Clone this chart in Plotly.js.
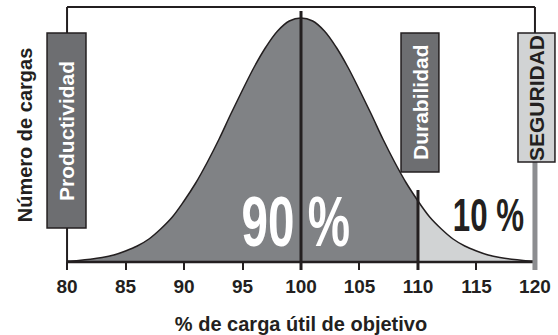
<!DOCTYPE html>
<html>
<head>
<meta charset="utf-8">
<script src="https://cdn.plot.ly/plotly-3.0.1.min.js"></script>
<style>html,body{margin:0;padding:0;background:#fff}#chart{width:558px;height:335px}
#chart .xtick text{font-weight:bold !important}</style>
</head>
<body>
<div id="chart"></div>
<script>
// Data
const loadPct = [80,81,82,83,84,85,86,87,88,89,90,91,92,93,94,95,96,97,98,99,100,101,102,103,104,105,106,107,108,109,110,111,112,113,114,115,116,117,118,119,120];
const loadCount = [1,1.6,2.7,4.4,7,11,16,23,33,45,61,79,100,123,148,172,195,215,231,241,244,241,231,215,195,172,148,123,100,79,61,45,33,23,16,11,7,4.4,2.7,1.6,1];
const splitAt = 110;            // boundary between 90 % and 10 %
const xTicks = [80,85,90,95,100,105,110,115,120];
const shareLabels = ["90 %", "10 %"];
const boxLabels = ["Productividad", "Durabilidad", "SEGURIDAD"];

const INK = '#231f20', DARK = '#808285', LIGHT = '#d1d3d4', GREYBAR = '#8c8d90';

const iSplit = loadPct.indexOf(splitAt);
const mainX = loadPct.slice(0, iSplit + 1), mainY = loadCount.slice(0, iSplit + 1);
const tailX = loadPct.slice(iSplit), tailY = loadCount.slice(iSplit);
const ySplit = loadCount[iSplit];
const yPeak = Math.max(...loadCount);
const xPeak = loadPct[loadCount.indexOf(yPeak)];
const xMin = loadPct[0], xMax = loadPct[loadPct.length - 1];

const traces = [
  {x: mainX, y: mainY, type: 'scatter', mode: 'lines', fill: 'tozeroy', fillcolor: DARK,
   line: {color: INK, width: 1.5, shape: 'spline'}, hoverinfo: 'skip'},
  {x: tailX, y: tailY, type: 'scatter', mode: 'lines', fill: 'tozeroy', fillcolor: LIGHT,
   line: {color: INK, width: 1.5, shape: 'spline'}, hoverinfo: 'skip'}
];

const frameTop = 255;
const shapes = [
  {type: 'line', xref: 'x', yref: 'y', x0: xMin, x1: xMax, y0: 0, y1: 0, line: {color: INK, width: 2.5}},
  {type: 'line', xref: 'x', yref: 'y', x0: xMin, x1: xMin, y0: 0, y1: frameTop, line: {color: INK, width: 2}},
  {type: 'line', xref: 'x', yref: 'y', x0: xMin, x1: xMax, y0: frameTop, y1: frameTop, line: {color: INK, width: 2}},
  {type: 'line', xref: 'x', yref: 'y', x0: xMax, x1: xMax, y0: 229, y1: frameTop, line: {color: INK, width: 2}},
  {type: 'line', xref: 'x', yref: 'y', x0: xMax, x1: xMax, y0: -8, y1: 100, line: {color: GREYBAR, width: 5}},
  {type: 'line', xref: 'x', yref: 'y', x0: xPeak, x1: xPeak, y0: -8, y1: yPeak + 7, line: {color: INK, width: 3}},
  {type: 'line', xref: 'x', yref: 'y', x0: splitAt, x1: splitAt, y0: -8, y1: ySplit + 11, line: {color: INK, width: 3}},
  {type: 'rect', xref: 'x', yref: 'y', x0: 78.29, x1: 81.62, y0: 34, y1: 229, fillcolor: '#6d6e71', line: {color: INK, width: 1.5}},
  {type: 'rect', xref: 'x', yref: 'y', x0: 108.55, x1: 111.79, y0: 90, y1: 229, fillcolor: '#6d6e71', line: {color: INK, width: 1.5}},
  {type: 'rect', xref: 'x', yref: 'y', x0: 118.55, x1: 121.71, y0: 100, y1: 229, fillcolor: LIGHT, line: {color: INK, width: 1.5}}
];

const boldFont = 'Liberation Sans, Arial, Helvetica, sans-serif';
const annotations = [
  {x: 79.95, y: 131.5, xref: 'x', yref: 'y', text: '<b>' + boxLabels[0] + '</b>', textangle: -90, showarrow: false,
   font: {family: boldFont, size: 21, color: '#ffffff'}},
  {x: 110.17, y: 160, xref: 'x', yref: 'y', text: '<b>' + boxLabels[1] + '</b>', textangle: -90, showarrow: false,
   font: {family: boldFont, size: 21, color: '#ffffff'}},
  {x: 120.13, y: 164.5, xref: 'x', yref: 'y', text: '<b>' + boxLabels[2] + '</b>', textangle: -90, showarrow: false,
   font: {family: boldFont, size: 21, color: INK}},
  {x: 99.6, y: 40, xref: 'x', yref: 'y', text: '<b>' + shareLabels[0] + '</b>', showarrow: false,
   font: {family: boldFont, size: 70, color: '#ffffff'}},
  {x: 116.07, y: 47, xref: 'x', yref: 'y', text: '<b>' + shareLabels[1] + '</b>', showarrow: false,
   font: {family: boldFont, size: 46, color: INK}}
];

const layout = {
  width: 558, height: 335,
  margin: {l: 44, r: 0, t: 0, b: 65, pad: 0},
  paper_bgcolor: '#ffffff', plot_bgcolor: '#ffffff',
  showlegend: false,
  xaxis: {
    range: [78.03, 121.97], tickvals: xTicks, ticktext: xTicks.map(String),
    ticks: 'inside', ticklen: 8, tickwidth: 2, tickcolor: INK,
    ticklabelstandoff: 3,
    showline: false, showgrid: false, zeroline: false,
    tickfont: {family: boldFont, size: 19, color: INK, weight: 700},
    title: {text: '<b>% de carga útil de objetivo</b>', standoff: 21,
            font: {family: boldFont, size: 20, color: INK}},
    automargin: false,
    fixedrange: true
  },
  yaxis: {
    range: [-8, 262], showticklabels: false, ticks: '', showline: false, showgrid: false, zeroline: false,
    title: {text: '<b>Número de cargas</b>', standoff: 5,
            font: {family: boldFont, size: 20, color: INK}},
    automargin: false,
    fixedrange: true
  },
  shapes: shapes,
  annotations: annotations
};

Plotly.newPlot('chart', traces, layout, {displayModeBar: false, staticPlot: true}).then(gd => {
  // bold tick labels
  gd.querySelectorAll('.xtick text').forEach(t => { t.style.fontWeight = '700'; });
  // condense the large percentage labels (reference uses a condensed typeface)
  const texts = gd.querySelectorAll('.annotation .annotation-text');
  [3, 4].forEach(i => {
    const t = texts[i];
    if (!t) return;
    t.style.transformBox = 'fill-box';
    t.style.transformOrigin = 'center';
    t.style.transform = 'scaleX(0.68)';
  });
});
</script>
</body>
</html>
